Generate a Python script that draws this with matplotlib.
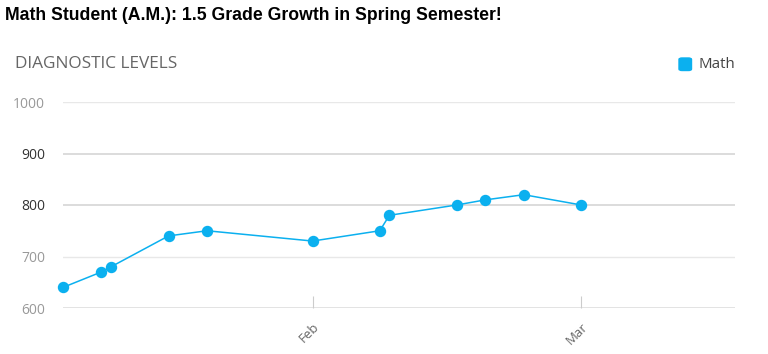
import matplotlib
matplotlib.use("Agg")
import matplotlib.pyplot as plt
import numpy as np
from matplotlib.patches import FancyBboxPatch

dates = ["2023-01-06", "2023-01-10", "2023-01-11", "2023-01-17", "2023-01-21",
         "2023-02-01", "2023-02-08", "2023-02-09", "2023-02-16", "2023-02-19",
         "2023-02-23", "2023-03-01"]
levels = [640, 670, 680, 740, 750, 730, 750, 780, 800, 810, 820, 800]
y_ticks = [600, 700, 800, 900, 1000]
x_tick_dates = ["2023-02-01", "2023-03-01"]
x_tick_labels = ["Feb", "Mar"]

title = "Math Student (A.M.): 1.5 Grade Growth in Spring Semester!"
subtitle = "DIAGNOSTIC LEVELS"
series_name = "Math"
color = "#0bb0ef"

W, H = 768, 354
fig = plt.figure(figsize=(W / 100, H / 100), dpi=100)
ax = fig.add_axes([63 / W, (H - 308) / H, (735 - 63) / W, (308 - 102) / H])

x = np.array(dates, dtype="datetime64[D]")
ax.plot(x, levels, color=color, lw=1.1, marker="o", ms=7.2, mec=color, mfc=color,
        clip_on=False, zorder=5)

ax.set_xlim(np.datetime64("2023-01-06"), np.datetime64("2023-03-17"))
ax.set_ylim(600, 1000)

for s in ax.spines.values():
    s.set_visible(False)

# gridlines
for yv in y_ticks:
    if yv in (800, 900):
        ax.axhline(yv, color="#dcdcdc", lw=1.4, zorder=1)
    elif yv == 600:
        ax.axhline(yv, color="#e3e3e3", lw=1.4, zorder=1)
    else:
        ax.axhline(yv, color="#e8e8e8", lw=1.0, zorder=1)

ax.set_yticks(y_ticks)
ax.set_yticklabels([str(v) for v in y_ticks], fontfamily="Open Sans", fontsize=10)
for lab, yv in zip(ax.get_yticklabels(), y_ticks):
    lab.set_color("#333333" if yv in (800, 900) else "#999999")
ax.tick_params(axis="y", length=0, pad=13)

xt = np.array(x_tick_dates, dtype="datetime64[D]")
ax.set_xticks(xt)
ax.set_xticklabels(x_tick_labels, rotation=45, ha="right", rotation_mode="anchor",
                   fontfamily="Open Sans", fontsize=9.5, color="#666666")
ax.tick_params(axis="x", direction="in", length=9, width=0.8, color="#cccccc", pad=9)

fig.text(5 / W, 1 - 15 / H, title, fontfamily="Liberation Sans", fontweight="bold",
         fontsize=12.7, color="black", va="center", ha="left")
fig.text(15 / W, 1 - 64 / H, subtitle, fontfamily="Open Sans", fontsize=12.4,
         color="#666666", va="center", ha="left")

# legend
box = FancyBboxPatch((679 / W, 1 - 70.5 / H), 12.5 / W, 12.5 / H,
                     boxstyle="round,pad=0,rounding_size=0.004",
                     transform=fig.transFigure, color=color, ec=color)
fig.patches.append(box)
fig.text(698 / W, 1 - 64 / H, series_name, fontfamily="Open Sans", fontsize=10.8,
         color="#444444", va="center", ha="left")

fig.savefig("out.png", dpi=100)
